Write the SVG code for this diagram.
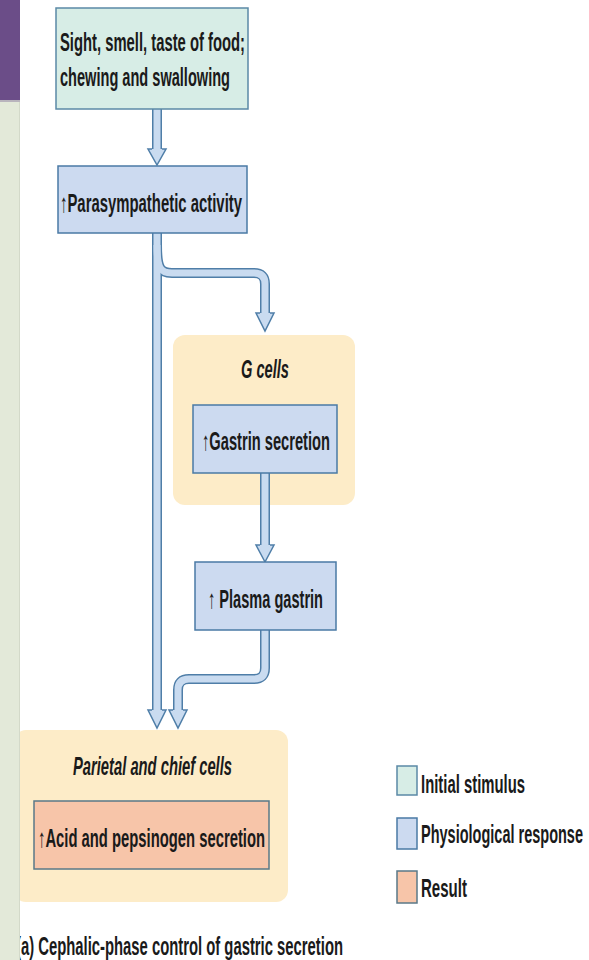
<svg xmlns="http://www.w3.org/2000/svg" width="589" height="960" viewBox="0 0 589 960">
<defs>
<style>
.t{font-family:"Liberation Sans Narrow","Liberation Sans",Arial,sans-serif;font-weight:bold;font-size:26px;fill:#1a1a1a}
.i{font-style:italic}
.cont{fill:#fdecc8}
.stim{fill:#d7ede6;stroke:#5b89a6;stroke-width:1.5}
.resp{fill:#ccdaf0;stroke:#4a7aa5;stroke-width:1.5}
.res{fill:#f7c5a9;stroke:#5a7888;stroke-width:1.5}
.co{fill:none;stroke:#4f7ea8;stroke-width:10}
.ci{fill:none;stroke:#c9dbf0;stroke-width:7}
.ah{fill:#c9dbf0;stroke:#4f7ea8;stroke-width:1.5;stroke-linejoin:miter}
</style>
</defs>
<rect x="0" y="0" width="589" height="960" fill="#ffffff"/>

<g id="caption">
<text class="t" x="16" y="955" textLength="327" lengthAdjust="spacingAndGlyphs">(a) Cephalic-phase control of gastric secretion</text>
</g>

<g id="g-cells">
<rect class="cont" x="173" y="335" width="182" height="170" rx="12"/>
<text class="t i" x="265" y="378" text-anchor="middle" textLength="48" lengthAdjust="spacingAndGlyphs">G cells</text>
</g>

<g id="parietal-chief-cells">
<rect class="cont" x="14" y="730" width="274" height="172" rx="12"/>
<text class="t i" x="73" y="775" textLength="159" lengthAdjust="spacingAndGlyphs">Parietal and chief cells</text>
</g>

<g id="connectors">
<path class="co" d="M157,108 L157,150"/>
<path class="co" d="M157,232 L157,711"/>
<path class="co" d="M157,245 C157,268 160,273 172,273 L254,273 Q265,273 265,284 L265,314"/>
<path class="co" d="M265,472 L265,546"/>
<path class="co" d="M265,629 L265,668 Q265,679 254,679 L189,679 Q178,679 178,690 L178,711"/>
<path class="ci" d="M157,108 L157,151"/>
<path class="ci" d="M157,232 L157,712"/>
<path class="ci" d="M157,245 C157,268 160,273 172,273 L254,273 Q265,273 265,284 L265,315"/>
<path class="ci" d="M265,472 L265,547"/>
<path class="ci" d="M265,629 L265,668 Q265,679 254,679 L189,679 Q178,679 178,690 L178,712"/>
<path class="ah" d="M152,149 L148,149 L157,165 L166,149 L162,149"/>
<path class="ah" d="M152,710 L148,710 L157,728 L166,710 L162,710"/>
<path class="ah" d="M260,313 L256,313 L265,331 L274,313 L270,313"/>
<path class="ah" d="M260,545 L256,545 L265,562 L274,545 L270,545"/>
<path class="ah" d="M173,710 L169,710 L178,728 L187,710 L183,710"/>
</g>

<g id="stimulus">
<rect class="stim" x="56" y="8" width="192" height="101"/>
<text class="t" x="60" y="51" textLength="185" lengthAdjust="spacingAndGlyphs">Sight, smell, taste of food;</text>
<text class="t" x="60" y="86" textLength="170" lengthAdjust="spacingAndGlyphs">chewing and swallowing</text>
</g>

<g id="parasympathetic">
<rect class="resp" x="58" y="166" width="189" height="67"/>
<text class="t" x="60" y="212" textLength="182" lengthAdjust="spacingAndGlyphs">↑Parasympathetic activity</text>
</g>

<g id="gastrin-secretion">
<rect class="resp" x="193" y="405" width="144" height="68"/>
<text class="t" x="202" y="450" textLength="128" lengthAdjust="spacingAndGlyphs">↑Gastrin secretion</text>
</g>

<g id="plasma-gastrin">
<rect class="resp" x="195" y="562" width="141" height="68"/>
<text class="t" x="208" y="608" textLength="115" lengthAdjust="spacingAndGlyphs">↑ Plasma gastrin</text>
</g>

<g id="acid-pepsinogen">
<rect class="res" x="34" y="801" width="235" height="68"/>
<text class="t" x="38" y="847" textLength="227" lengthAdjust="spacingAndGlyphs">↑Acid and pepsinogen secretion</text>
</g>

<g id="legend">
<rect class="stim" x="397" y="766" width="20" height="29"/>
<text class="t" x="421" y="793" textLength="104" lengthAdjust="spacingAndGlyphs">Initial stimulus</text>
<rect class="resp" x="397" y="818" width="20" height="31"/>
<text class="t" x="421" y="843" textLength="162" lengthAdjust="spacingAndGlyphs">Physiological response</text>
<rect class="res" x="397" y="871" width="20" height="32"/>
<text class="t" x="421" y="897" textLength="46" lengthAdjust="spacingAndGlyphs">Result</text>
</g>

<g id="side-band">
<rect x="0" y="0" width="20" height="100" fill="#6b4d88"/>
<rect x="0" y="100" width="20" height="2" fill="#b9b4bd"/>
<rect x="0" y="102" width="20" height="858" fill="#e3e9d9"/>
<line x1="19.5" y1="102" x2="19.5" y2="960" stroke="#d3d9c9" stroke-width="1"/>
</g>
</svg>
